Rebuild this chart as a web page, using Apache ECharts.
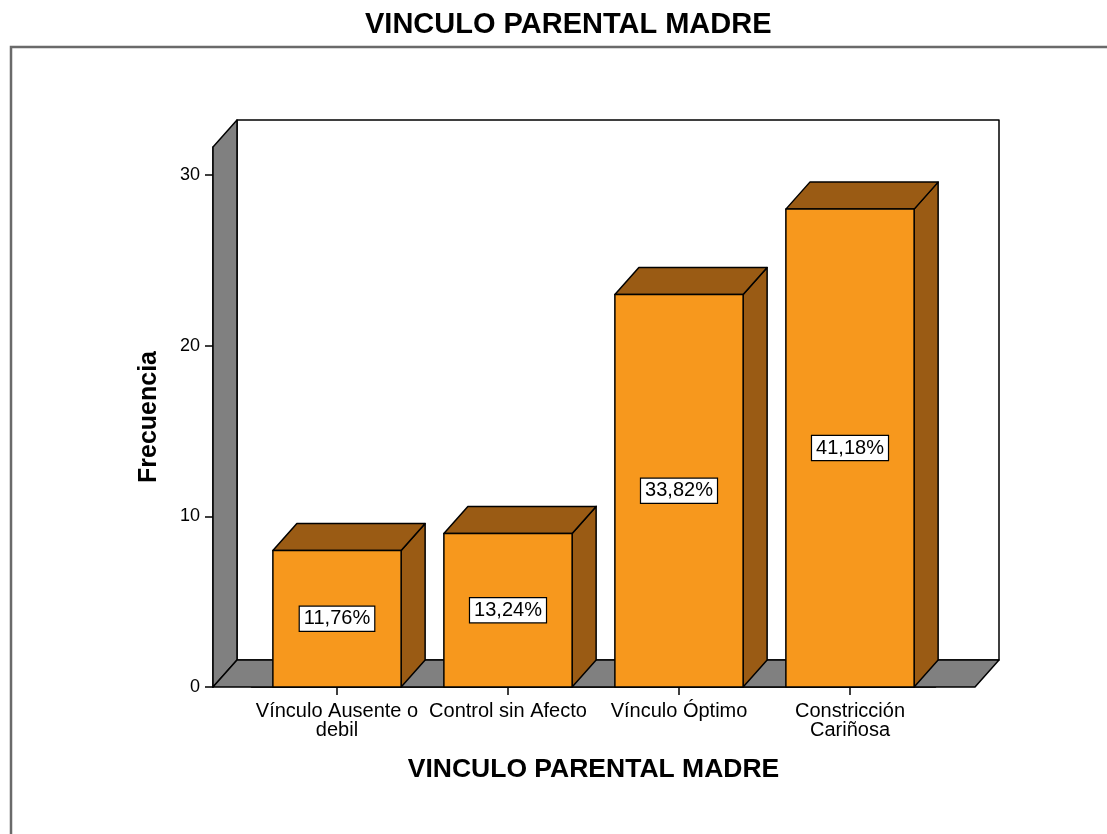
<!DOCTYPE html>
<html>
<head>
<meta charset="utf-8">
<script src="https://cdn.jsdelivr.net/npm/echarts@6/dist/echarts.min.js"></script>
<style>html,body{margin:0;padding:0;background:#fff;}#c{width:1107px;height:834px;}</style>
</head>
<body>
<div id="c"></div>
<script>
// ---- data ----
const categories = ['Vínculo Ausente o\ndebil', 'Control sin Afecto', 'Vínculo Óptimo', 'Constricción\nCariñosa'];
const frequencies = [8, 9, 23, 28];
const percentLabels = ['11,76%', '13,24%', '33,82%', '41,18%'];
const yTicks = [0, 10, 20, 30];
const titleText = 'VINCULO PARENTAL MADRE';
const xAxisName = 'VINCULO PARENTAL MADRE';
const yAxisName = 'Frecuencia';

// ---- style ----
const FRONT = '#F7981D';
const DARK = '#9A5B14';
const WALL = '#808080';
const DX = 24, DY = 27;          // 3D depth offset
const PAD_L = 38.5, PAD_R = 39.5; // wall extension beyond category band
const Y_MAX = 31.64;
const FONT = 'Liberation Sans, Arial, sans-serif';

const chart = echarts.init(document.getElementById('c'));

function wallsRender(params, api) {
  const cs = params.coordSys;
  const L = cs.x - PAD_L, R = cs.x + cs.width + PAD_R;
  const T = cs.y, B = cs.y + cs.height;
  const st = { stroke: '#000', lineWidth: 1.5, lineJoin: 'round' };
  return {
    type: 'group',
    children: [
      { type: 'rect', shape: { x: L + DX, y: T - DY, width: R - L, height: B - T }, style: Object.assign({ fill: '#fff' }, st) },
      { type: 'polygon', shape: { points: [[L, B], [L, T], [L + DX, T - DY], [L + DX, B - DY]] }, style: Object.assign({ fill: WALL }, st) },
      { type: 'polygon', shape: { points: [[L, B], [R, B], [R + DX, B - DY], [L + DX, B - DY]] }, style: Object.assign({ fill: WALL }, st) }
    ]
  };
}

function barRender(params, api) {
  const idx = api.value(0);
  const top = api.coord([idx, api.value(1)]);
  const base = api.coord([idx, 0]);
  const bw = api.size([1, 0])[0] * 0.75;
  const x0 = top[0] - bw / 2, x1 = top[0] + bw / 2;
  const yT = top[1], yB = base[1];
  const st = { stroke: '#000', lineWidth: 1.5, lineJoin: 'round' };
  return {
    type: 'group',
    children: [
      { type: 'polygon', shape: { points: [[x1, yB], [x1, yT], [x1 + DX, yT - DY], [x1 + DX, yB - DY]] }, style: Object.assign({ fill: DARK }, st) },
      { type: 'polygon', shape: { points: [[x0, yT], [x1, yT], [x1 + DX, yT - DY], [x0 + DX, yT - DY]] }, style: Object.assign({ fill: DARK }, st) },
      { type: 'rect', shape: { x: x0, y: yT, width: bw, height: yB - yT }, style: Object.assign({ fill: FRONT }, st) },
      { type: 'text', x: top[0], y: (yT + yB) / 2, style: {
          text: percentLabels[params.dataIndex], fill: '#000', font: '20px ' + FONT,
          align: 'center', verticalAlign: 'middle',
          backgroundColor: '#fff', borderColor: '#000', borderWidth: 1.2, padding: [2, 4]
        } }
    ]
  };
}

chart.setOption({
  animation: false,
  backgroundColor: '#fff',
  title: {
    text: titleText, left: 360, top: 5,
    textStyle: { fontFamily: FONT, fontSize: 29, fontWeight: 'bold', color: '#000' }
  },
  graphic: [{
    type: 'rect', shape: { x: 11, y: 47, width: 1300, height: 1000 },
    style: { fill: 'none', stroke: '#6a6a6a', lineWidth: 2.5 }, z: -1
  }],
  grid: { left: 251.5, right: 171.5, top: 147, bottom: 147 },
  xAxis: {
    type: 'category', data: categories,
    name: xAxisName, nameLocation: 'middle', nameGap: 69,
    nameTextStyle: { fontFamily: FONT, fontSize: 26.5, fontWeight: 'bold', color: '#000' },
    axisLine: { show: true, lineStyle: { color: '#000', width: 1.5 } },
    axisTick: { show: true, alignWithLabel: true, length: 8, lineStyle: { color: '#000', width: 1.5 } },
    axisLabel: { fontFamily: FONT, fontSize: 20, color: '#000', lineHeight: 19, margin: 15, interval: 0 },
    splitLine: { show: false }
  },
  yAxis: {
    type: 'value', min: 0, max: Y_MAX, interval: 10, offset: PAD_L,
    name: yAxisName, nameLocation: 'middle', nameGap: 51,
    nameTextStyle: { fontFamily: FONT, fontSize: 25, fontWeight: 'bold', color: '#000' },
    axisLine: { show: true, lineStyle: { color: '#000', width: 1.5 } },
    axisTick: { show: true, length: 8, customValues: yTicks, lineStyle: { color: '#000', width: 1.5 } },
    axisLabel: { fontFamily: FONT, fontSize: 18, color: '#000', margin: 13, customValues: yTicks },
    splitLine: { show: false }
  },
  series: [
    { type: 'custom', renderItem: wallsRender, data: [[0, 0]], clip: false, z: 1, silent: true },
    { type: 'custom', renderItem: barRender, data: frequencies.map((v, i) => [i, v]), clip: false, z: 3 }
  ]
});
</script>
</body>
</html>
